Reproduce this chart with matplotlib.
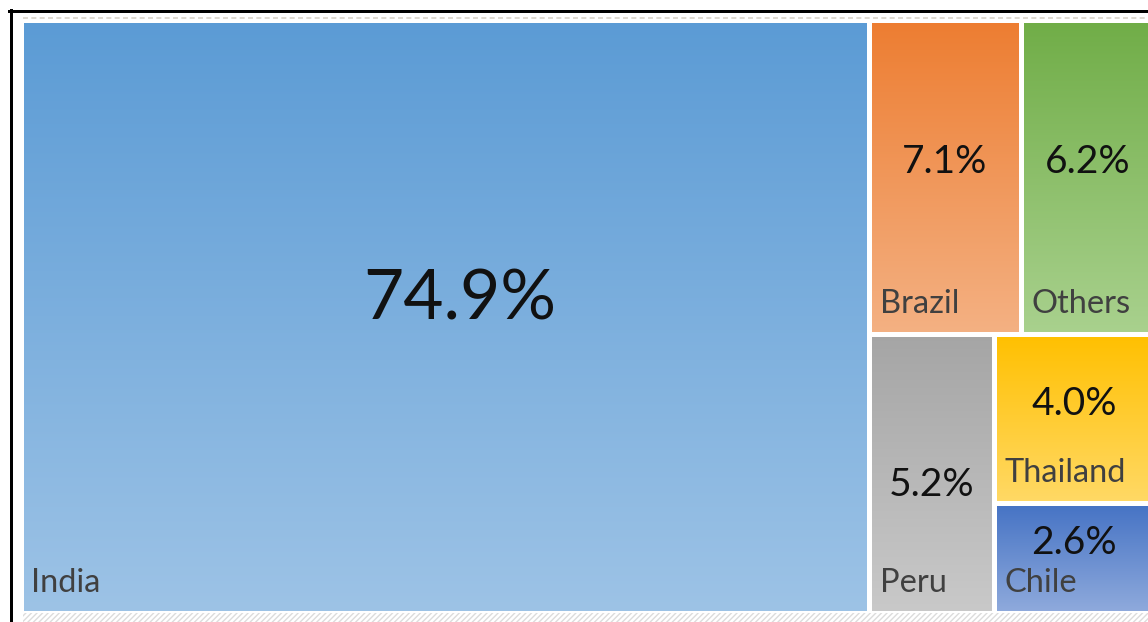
import matplotlib
matplotlib.use("Agg")
import matplotlib.pyplot as plt
import numpy as np
from matplotlib.patches import Rectangle
from matplotlib.lines import Line2D
from matplotlib.colors import to_rgb

# ---------------- data ----------------
categories = ["India", "Brazil", "Others", "Peru", "Thailand", "Chile"]
shares = [74.9, 7.1, 6.2, 5.2, 4.0, 2.6]
value_labels = ["74.9%", "7.1%", "6.2%", "5.2%", "4.0%", "2.6%"]

# ---------------- style ----------------
top_colors = ["#5B9BD5", "#ED7D31", "#70AD47", "#A5A5A5", "#FFC000", "#4472C4"]
bottom_colors = ["#9DC3E6", "#F4B183", "#A9D18E", "#C9C9C9", "#FFD966", "#8FAADC"]
# slicing tree of the treemap layout (indices into categories)
layout_tree = ("h", [0, ("v", [("h", [1, 2]), ("h", [3, ("v", [4, 5])])])])

FW, FH, DPI = 1148, 622, 100
plt.rcParams["font.family"] = ["Lato", "DejaVu Sans"]

fig = plt.figure(figsize=(FW / DPI, FH / DPI), dpi=DPI)
fig.patch.set_facecolor("white")

# layout box in pixels (left, top, right, bottom)
L, T, R, B = 20.5, 19.5, 1153.5, 612.5
ax = fig.add_axes([L / FW, (FH - B) / FH, (R - L) / FW, (B - T) / FH])
ax.set_axis_off()
AXW, AXH = R - L, B - T


def node_sum(node):
    if isinstance(node, int):
        return shares[node]
    return sum(node_sum(c) for c in node[1])


def place(node, x, y, w, h, out):
    if isinstance(node, int):
        out[node] = (x, y, w, h)
        return
    kind, children = node
    total = node_sum(node)
    if kind == "h":
        cx = x
        for c in children:
            cw = w * node_sum(c) / total
            place(c, cx, y, cw, h, out)
            cx += cw
    else:  # vertical, first child on top
        cy = y + h
        for c in children:
            ch = h * node_sum(c) / total
            cy -= ch
            place(c, x, cy, w, ch, out)


rects = {}
place(layout_tree, 0.0, 0.0, 1.0, 1.0, rects)

px2pt = 72.0 / DPI
gap_px = 5.0
nudges = {"India": (15, -4), "Peru": (0, 26)}

for i, name in enumerate(categories):
    x, y, w, h = rects[i]
    c_top = np.array(to_rgb(top_colors[i]))
    c_bot = np.array(to_rgb(bottom_colors[i]))
    t = np.linspace(0, 1, 256)[:, None, None]
    grad = c_bot[None, None, :] * (1 - t) + c_top[None, None, :] * t
    ax.imshow(grad, extent=(x, x + w, y, y + h), origin="lower",
              aspect="auto", interpolation="bilinear", zorder=1)
    ax.add_patch(Rectangle((x, y), w, h, facecolor="none", edgecolor="white",
                           linewidth=gap_px * px2pt, zorder=2))

    big = (i == 0)
    vsize = 50 if big else 28
    digit_h = 50 if big else 28
    cell_h_px = h * AXH
    center_from_top = (cell_h_px - 41) / 2 + 3
    nx, ny = nudges.get(name, (0, 0))
    base_from_top = center_from_top + digit_h / 2 + ny
    ax.annotate(value_labels[i], xy=(x + w / 2, y + h),
                xytext=(nx * px2pt, -base_from_top * px2pt), textcoords="offset points",
                ha="center", va="baseline", fontsize=vsize, color="#111111", zorder=3)
    ax.annotate(name, xy=(x, y), xytext=((gap_px / 2 + 8) * px2pt, (gap_px / 2 + 18) * px2pt),
                textcoords="offset points", ha="left", va="baseline",
                fontsize=23.5, color="#404040", zorder=3)

ax.set_xlim(0, 1)
ax.set_ylim(0, 1)

# frame lines (black) at top and left
fig.add_artist(Line2D([9 / FW, 1.0], [(FH - 11) / FH] * 2, color="black",
                      linewidth=3 * px2pt, transform=fig.transFigure))
fig.add_artist(Line2D([10.5 / FW] * 2, [0, (FH - 9.5) / FH], color="black",
                      linewidth=3 * px2pt, transform=fig.transFigure))
# faint dashed border at top
fig.add_artist(Line2D([23 / FW, 1.0], [(FH - 18) / FH] * 2, color="#d9d3c9",
                      linewidth=1.2, linestyle=(0, (3, 2)), transform=fig.transFigure))
# faint hatched strip at bottom
fig.add_artist(Rectangle((23 / FW, 0), 1.0, (FH - 613) / FH, transform=fig.transFigure,
                         facecolor="none", edgecolor="#dcdcdc", hatch="//////",
                         linewidth=0))

fig.savefig("out.png", dpi=DPI, facecolor="white")
